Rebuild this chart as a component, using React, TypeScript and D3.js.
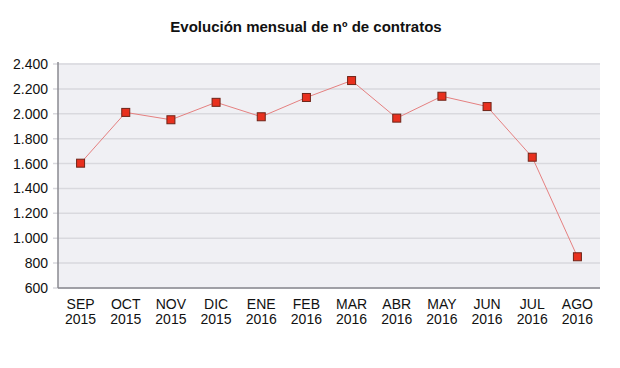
import { useEffect, useRef } from 'react';
import * as d3 from 'd3';

const months = ['SEP', 'OCT', 'NOV', 'DIC', 'ENE', 'FEB', 'MAR', 'ABR', 'MAY', 'JUN', 'JUL', 'AGO'];
const years = ['2015', '2015', '2015', '2015', '2016', '2016', '2016', '2016', '2016', '2016', '2016', '2016'];
const contratos = [1603, 2011, 1952, 2092, 1976, 2131, 2267, 1965, 2141, 2058, 1651, 851];
const yTicks = [600, 800, 1000, 1200, 1400, 1600, 1800, 2000, 2200, 2400];

const W = 620;
const H = 368;
const M = { top: 64, right: 20, bottom: 80, left: 58 };
const FONT = "'Liberation Sans', Arial, sans-serif";

export default function App() {
  const ref = useRef<SVGSVGElement>(null);

  useEffect(() => {
    const svg = d3.select(ref.current);
    svg.selectAll('*').remove();

    const innerW = W - M.left - M.right;
    const innerH = H - M.top - M.bottom;

    const x = d3.scaleBand<number>()
      .domain(d3.range(months.length))
      .range([0, innerW]);
    const y = d3.scaleLinear().domain([600, 2400]).range([innerH, 0]);

    const fmt = (v: number) => d3.format(',')(v).replace(/,/g, '.');

    svg.append('text')
      .attr('x', 306).attr('y', 32)
      .attr('text-anchor', 'middle')
      .attr('font-family', FONT)
      .attr('font-weight', 'bold')
      .attr('font-size', '15px')
      .attr('fill', '#111')
      .text('Evolución mensual de nº de contratos');

    const g = svg.append('g').attr('transform', `translate(${M.left},${M.top})`);

    // plot background
    g.append('rect')
      .attr('x', 0).attr('y', -1)
      .attr('width', innerW).attr('height', innerH + 1)
      .attr('fill', '#f0f0f4');

    // grid lines
    g.selectAll('.grid')
      .data(yTicks)
      .enter()
      .append('line')
      .attr('x1', -5).attr('x2', innerW)
      .attr('y1', (d) => y(d)).attr('y2', (d) => y(d))
      .attr('stroke', '#d9d9de')
      .attr('stroke-width', 1.5);

    // y axis labels
    g.selectAll('.ylab')
      .data(yTicks)
      .enter()
      .append('text')
      .attr('x', -10)
      .attr('y', (d) => y(d) + 5)
      .attr('text-anchor', 'end')
      .attr('font-family', FONT)
      .attr('font-size', '14px')
      .attr('fill', '#111')
      .text((d) => fmt(d));

    // axes lines
    g.append('line')
      .attr('x1', 0).attr('x2', 0)
      .attr('y1', -2).attr('y2', innerH)
      .attr('stroke', '#8a8a90').attr('stroke-width', 1.5);
    g.append('line')
      .attr('x1', 0).attr('x2', innerW)
      .attr('y1', innerH).attr('y2', innerH)
      .attr('stroke', '#8a8a90').attr('stroke-width', 1.5);

    // x labels
    const xl = g.selectAll('.xlab')
      .data(months)
      .enter()
      .append('text')
      .attr('text-anchor', 'middle')
      .attr('font-family', FONT)
      .attr('font-size', '14px')
      .attr('fill', '#111');
    xl.append('tspan')
      .attr('x', (_, i) => x(i)! + x.bandwidth() / 2)
      .attr('y', innerH + 21)
      .text((d) => d);
    xl.append('tspan')
      .attr('x', (_, i) => x(i)! + x.bandwidth() / 2)
      .attr('y', innerH + 36)
      .text((_, i) => years[i]);

    // line
    const line = d3.line<number>()
      .x((_, i) => x(i)! + x.bandwidth() / 2)
      .y((d) => y(d));
    g.append('path')
      .datum(contratos)
      .attr('d', line)
      .attr('fill', 'none')
      .attr('stroke', '#e58080')
      .attr('stroke-width', 1);

    // markers
    g.selectAll('.pt')
      .data(contratos)
      .enter()
      .append('rect')
      .attr('x', (_, i) => x(i)! + x.bandwidth() / 2 - 4)
      .attr('y', (d) => y(d) - 4)
      .attr('width', 8).attr('height', 8)
      .attr('fill', '#e8301e')
      .attr('stroke', '#6e2418')
      .attr('stroke-width', 1);
  }, []);

  return (
    <svg ref={ref} width={W} height={H} style={{ position: 'absolute', left: 0, top: 0, background: '#fff' }} />
  );
}
